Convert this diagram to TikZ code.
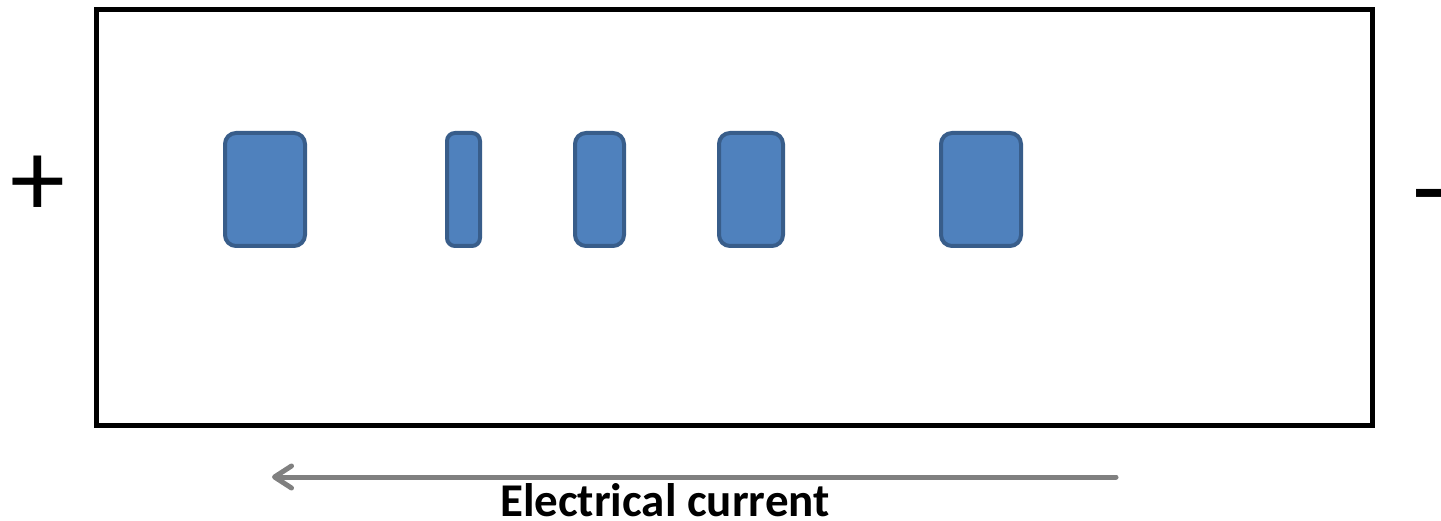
\documentclass[tikz,border=0pt]{standalone}
\usepackage{fontspec}
\setmainfont{Carlito}
\usetikzlibrary{arrows.meta}
\definecolor{grainfill}{HTML}{4F81BD}
\definecolor{grainedge}{HTML}{385D8A}
\definecolor{currentgray}{HTML}{808080}
\begin{document}
\begin{tikzpicture}[x=1pt,y=-1pt,
  grain/.style={draw=grainedge, fill=grainfill, line width=4pt, rounded corners=11pt,
    inner sep=0pt, outer sep=0pt, minimum height=113pt},
  cellbox/.style={draw=black, line width=5pt, inner sep=0pt, outer sep=0pt,
    minimum width=1276pt, minimum height=415.5pt},
  pole/.style={inner sep=0pt, font=\fontsize{110}{110}\selectfont},
  flow/.style={draw=currentgray, line width=5pt, line cap=round,
    -{Straight Barb[length=17pt, width=22pt, line width=5pt, round]}}
  ]
  \useasboundingbox (0,0) rectangle (1441,521);
  % the cell
  \node[cellbox] (cell) at (734,217.25) {};
  % electrodes
  \node[pole, anchor=center] (plus) at (38,186) {+};
  \node[pole, anchor=west] (minus) at (1412,207) {-};
  % particles inside the cell
  \node[grain, minimum width=80pt] (g1) at (265,189.5) {};
  \node[grain, minimum width=33pt, rounded corners=8pt] (g2) at (463.5,189.5) {};
  \node[grain, minimum width=49pt] (g3) at (599.5,189.5) {};
  \node[grain, minimum width=64pt] (g4) at (751,189.5) {};
  \node[grain, minimum width=80pt] (g5) at (981,189.5) {};
  % direction of the current
  \coordinate (flowstart) at (1116,477);
  \coordinate (flowend) at (272,477);
  \draw[flow] (flowstart) -- (flowend);
  \node[anchor=base, inner sep=0pt, font=\fontsize{47}{47}\selectfont\bfseries] (label) at (665,516) {Electrical current};
\end{tikzpicture}
\end{document}
